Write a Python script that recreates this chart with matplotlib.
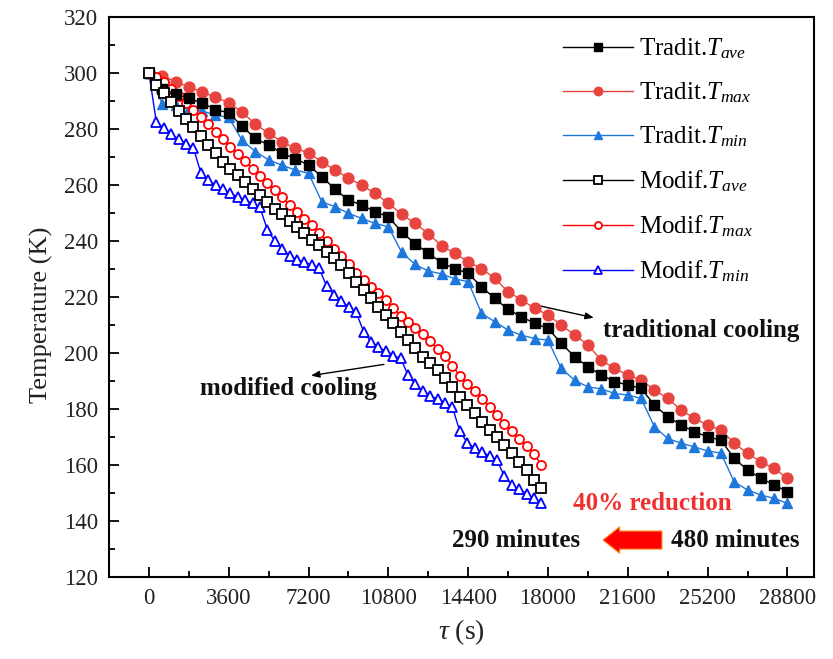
import numpy as np
import matplotlib
matplotlib.use("Agg")
import matplotlib.pyplot as plt
from matplotlib.ticker import MultipleLocator

plt.rcParams['font.family'] = ['Liberation Serif', 'DejaVu Serif']
plt.rcParams['mathtext.fontset'] = 'custom'
plt.rcParams['mathtext.rm'] = 'Liberation Serif'
plt.rcParams['mathtext.it'] = 'Liberation Serif:italic'
plt.rcParams['mathtext.bf'] = 'Liberation Serif:bold'

# ---------------- data ----------------
# Traditional cooling: sampled every 600 s from 0 to 28800 s
trad_time = np.arange(0, 28801, 600)
trad_ave = [300, 294.5, 292.5, 291.0, 289.3, 287.0, 285.8, 281.0, 276.7, 274.3,
            271.3, 269.5, 267.1, 263.0, 258.5, 254.6, 252.9, 250.5, 248.7, 243.3,
            239.0, 235.8, 232.2, 230.2, 228.5, 223.7, 219.5, 215.6, 213.0, 210.6,
            208.8, 203.5, 198.7, 195.1, 192.2, 189.8, 188.6, 187.4, 181.4, 177.3,
            174.3, 171.9, 170.1, 168.9, 162.4, 158.2, 155.3, 152.9, 150.5]
trad_max = [300, 299.0, 297.0, 295.0, 293.3, 291.3, 289.5, 286.0, 281.8, 278.5,
            275.5, 273.1, 271.5, 268.3, 265.4, 262.4, 260.0, 257.0, 253.5, 249.6,
            246.3, 242.7, 238.3, 235.6, 232.6, 230.2, 226.7, 221.9, 219.0, 216.0,
            213.6, 210.0, 206.5, 202.9, 197.5, 194.5, 192.2, 190.4, 186.8, 183.8,
            179.7, 176.7, 174.3, 172.5, 167.8, 164.2, 161.2, 158.8, 155.3]
trad_min = [300, 289.0, 288.5, 287.5, 286.5, 285.0, 284.2, 276.0, 272.0, 269.0,
            267.1, 265.4, 264.2, 254.0, 252.3, 249.9, 248.1, 246.3, 245.1, 236.0,
            231.7, 229.3, 228.3, 226.5, 225.5, 214.2, 211.2, 208.2, 206.4, 205.2,
            204.6, 194.5, 190.3, 187.9, 187.2, 185.6, 185.0, 183.8, 173.7, 169.5,
            167.8, 166.5, 165.0, 164.3, 154.0, 151.1, 149.3, 148.1, 146.3]

# Modified cooling: 54 samples from 0 to 17700 s
mod_time = np.linspace(0, 17700, 54)
mod_ave = [300, 295.8, 293.0, 289.7, 286.3, 283.6, 280.8, 277.7, 274.5, 271.3,
           268.3, 265.8, 263.5, 261.2, 258.7, 256.3, 253.8, 251.6, 249.5, 247.3,
           245.0, 242.8, 240.5, 238.5, 236.2, 233.8, 231.4, 228.5, 225.5, 222.5,
           219.5, 216.5, 213.6, 210.6, 207.6, 204.7, 201.7, 198.7, 196.3, 194.0,
           191.0, 188.0, 184.4, 181.4, 178.5, 175.5, 172.5, 170.1, 167.1, 164.2,
           161.2, 158.2, 154.6, 151.7]
mod_max = [300, 298.5, 296.8, 294.5, 292.0, 289.5, 287.0, 284.5, 281.8, 279.0,
           276.3, 273.7, 271.2, 268.5, 265.8, 263.3, 260.8, 258.3, 255.6, 253.0,
           250.4, 248.0, 245.6, 243.0, 240.2, 237.3, 234.5, 231.8, 228.7, 226.0,
           223.6, 221.3, 218.8, 216.0, 213.4, 211.2, 209.0, 206.8, 204.2, 201.4,
           198.8, 195.5, 191.8, 189.0, 186.4, 183.7, 180.7, 177.8, 174.8, 172.0,
           169.3, 166.8, 164.0, 160.0]
mod_min = [300, 282.5, 280.3, 278.3, 276.3, 274.8, 273.3, 264.5, 262.0, 260.0,
           258.5, 257.0, 255.8, 254.6, 253.5, 252.0, 244.0, 240.0, 237.2, 234.8,
           233.4, 232.4, 231.5, 230.3, 223.8, 220.8, 218.5, 216.5, 214.5, 207.6,
           204.0, 202.2, 200.6, 199.0, 198.2, 192.0, 188.8, 186.5, 184.8, 183.5,
           182.3, 180.6, 172.0, 168.0, 166.0, 164.5, 163.3, 161.8, 156.0, 153.0,
           151.3, 149.8, 148.2, 146.4]

x_ticks = [0, 3600, 7200, 10800, 14400, 18000, 21600, 25200, 28800]
y_ticks = [120, 140, 160, 180, 200, 220, 240, 260, 280, 300, 320]

# ---------------- figure ----------------
fig = plt.figure(figsize=(8.33, 6.59), dpi=100)
ax = fig.add_axes([0.1309, 0.1244, 0.8463, 0.8496])

c_tred = '#E8443F'
c_tblue = '#1E78DC'

ax.plot(trad_time, trad_ave, color='black', lw=1.0, marker='s', ms=7.8,
        mfc='black', mec='black', label='Tradit.$T_{ave}$', zorder=5)
ax.plot(trad_time, trad_max, color=c_tred, lw=1.0, marker='o', ms=7.8,
        mfc=c_tred, mec=c_tred, label='Tradit.$T_{max}$', zorder=4)
ax.plot(trad_time, trad_min, color=c_tblue, lw=1.0, marker='^', ms=7.8,
        mfc=c_tblue, mec=c_tblue, label='Tradit.$T_{min}$', zorder=3)
ax.plot(mod_time, mod_ave, color='black', lw=1.0, marker='s', ms=6.5,
        mfc='white', mec='black', mew=1.3, label='Modif.$T_{ave}$', zorder=5)
ax.plot(mod_time, mod_max, color='red', lw=1.0, marker='o', ms=6.5,
        mfc='white', mec='red', mew=1.3, label='Modif.$T_{max}$', zorder=4)
ax.plot(mod_time, mod_min, color='blue', lw=1.0, marker='^', ms=6.5,
        mfc='white', mec='blue', mew=1.3, label='Modif.$T_{min}$', zorder=3)

ax.set_xlim(-1800, 30000)
ax.set_ylim(120, 320)
ax.set_xticks(x_ticks)
ax.set_yticks(y_ticks)
ax.xaxis.set_minor_locator(MultipleLocator(1800))
ax.yaxis.set_minor_locator(MultipleLocator(10))
ax.tick_params(which='both', direction='in', top=False, right=False,
               labelsize=16.5, labelcolor='#222222', width=1.3, pad=8)
ax.tick_params(which='major', length=7)
ax.tick_params(which='minor', length=4)
for s in ax.spines.values():
    s.set_linewidth(1.5)

ax.set_xlabel(r'$\tau$ (s)', fontsize=20, color='#222222', labelpad=6)
ax.set_ylabel('Temperature (K)', fontsize=19, color='#222222')
ax.yaxis.set_label_coords(-0.079, 0.468)

leg = ax.legend(loc='upper left', bbox_to_anchor=(0.619, 0.997), frameon=False,
                fontsize=18, handlelength=2.8, handletextpad=0.25,
                labelspacing=0.78, numpoints=1, borderpad=0.2, markerscale=0.78)

# annotations
ax.annotate('', xy=(20190, 212.4), xytext=(17490, 217.1),
            arrowprops=dict(arrowstyle='-|>,head_length=0.5,head_width=0.2',
                            color='black', lw=1.0))
ax.text(24903, 208.2, 'traditional cooling', fontsize=18, fontweight='bold',
        ha='center', va='center', color='#111111')
ax.annotate('', xy=(7187, 191.8), xytext=(10723, 196.1),
            arrowprops=dict(arrowstyle='-|>,head_length=0.5,head_width=0.2',
                            color='black', lw=1.0))
ax.text(6271, 187.5, 'modified cooling', fontsize=18, fontweight='bold',
        ha='center', va='center', color='#111111')
ax.text(22690, 146.1, '40% reduction', fontsize=18, fontweight='bold',
        ha='center', va='center', color='#F03030')
ax.text(16556, 133.2, '290 minutes', fontsize=18, fontweight='bold',
        ha='center', va='center', color='#111111')
ax.text(26436, 133.2, '480 minutes', fontsize=18, fontweight='bold',
        ha='center', va='center', color='#111111')
ax.annotate('', xy=(20480, 133.2), xytext=(23140, 133.2),
            arrowprops=dict(arrowstyle='simple,head_length=1.2,head_width=1.9,tail_width=1.3',
                            fc='#FF0000', ec='#FF8C1A', lw=0.8, shrinkA=0, shrinkB=0))

fig.savefig('out.png', dpi=100)
